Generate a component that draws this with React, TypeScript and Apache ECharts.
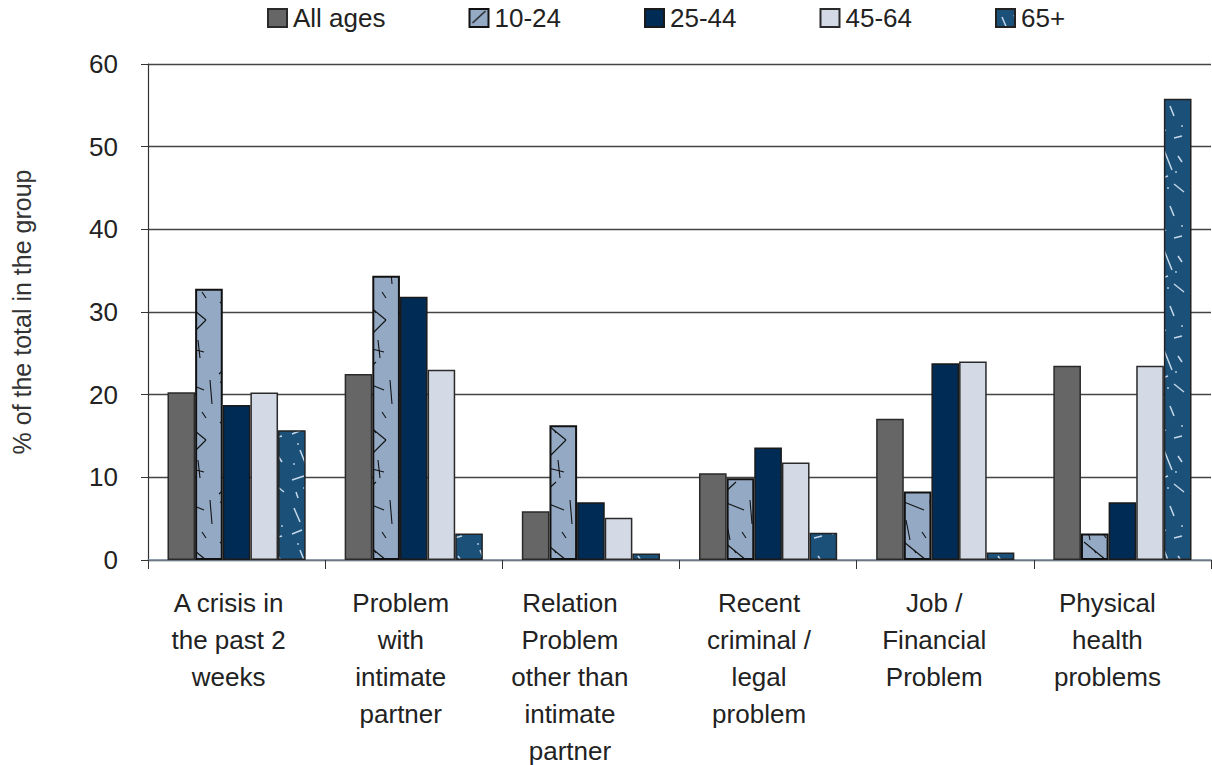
import React, { useEffect, useRef } from "react";
import * as echarts from "echarts";

const categories = [
  "A crisis in\nthe past 2\nweeks",
  "Problem\nwith\nintimate\npartner",
  "Relation\nProblem\nother than\nintimate\npartner",
  "Recent\ncriminal /\nlegal\nproblem",
  "Job /\nFinancial\nProblem",
  "Physical\nhealth\nproblems",
];
const seriesNames = ["All ages", "10-24", "25-44", "45-64", "65+"];
const allAges = [20.3, 22.5, 5.9, 10.5, 17.1, 23.5];
const age10to24 = [32.8, 34.4, 16.3, 9.9, 8.3, 3.2];
const age25to44 = [18.75, 31.85, 7.0, 13.6, 23.8, 7.0];
const age45to64 = [20.25, 23.0, 5.1, 11.8, 24.0, 23.5];
const age65plus = [15.7, 3.2, 0.8, 3.3, 0.9, 55.8];
const yTicks = [0, 10, 20, 30, 40, 50, 60];

// styling: right padding per category label (shifts label slightly left, as in the reference)
const labelPadRight = [16, 26, 42, 18, 22, 30];

const FONT = "'Liberation Sans', Arial, sans-serif";

// texture strokes (decoration only)
const segs1024 = [
  [3, 14, 16, 2], [4, 22, 24, 30], [6, 40, 10, 60], [22, 52, 26, 58],
  [4, 62, 26, 80], [26, 80, 10, 96], [18, 100, 20, 118], [8, 108, 24, 112],
  [30, 20, 32, 44], [14, 70, 16, 73],
];
const segs65 = [
  [6, 8, 12, 22], [18, 6, 22, 16], [4, 34, 14, 30], [22, 38, 30, 36],
  [12, 50, 20, 70], [26, 56, 30, 62], [4, 80, 16, 76], [22, 84, 32, 92],
  [8, 92, 10, 98],
];
const dots65 = [[30, 26], [10, 44], [24, 72], [6, 64], [16, 88]];

function makeTile(w: number, h: number, bg: string, stroke: string, lw: number, segs: number[][], dots: number[][]) {
  const c = document.createElement("canvas");
  c.width = w;
  c.height = h;
  const ctx = c.getContext("2d")!;
  ctx.fillStyle = bg;
  ctx.fillRect(0, 0, w, h);
  ctx.strokeStyle = stroke;
  ctx.lineWidth = lw;
  segs.forEach(([x1, y1, x2, y2]) => {
    ctx.beginPath();
    ctx.moveTo(x1, y1);
    ctx.lineTo(x2, y2);
    ctx.stroke();
  });
  ctx.fillStyle = stroke;
  dots.forEach(([x, y]) => {
    ctx.fillRect(x - 0.8, y - 0.8, 1.6, 1.6);
  });
  return { image: c.toDataURL(), repeat: "repeat", imageWidth: w, imageHeight: h };
}

export default function App() {
  const ref = useRef<HTMLDivElement>(null);
  useEffect(() => {
    if (!ref.current) return;
    const chart = echarts.init(ref.current, null, { renderer: "svg" });
    const pat1024 = makeTile(36, 120, "#94A9C4", "#111111", 1.1, segs1024, []);
    const pat65 = makeTile(36, 100, "#1B5079", "#C6D8EA", 1.5, segs65, dots65);
    const values = [allAges, age10to24, age25to44, age45to64, age65plus];
    const fills: any[] = ["#666666", pat1024, "#002B55", "#D3DAE6", pat65];
    const borders = ["#2a2a2a", "#111111", "#1a1a1a", "#2a2a2a", "#222222"];
    const bw = [1.5, 2, 1.5, 1.5, 1.5];
    chart.setOption({
      animation: false,
      backgroundColor: "#ffffff",
      textStyle: { fontFamily: FONT },
      legend: {
        left: 262,
        top: 0,
        icon: "rect",
        itemWidth: 19,
        itemHeight: 18,
        itemGap: 83,
        textStyle: { fontSize: 26, color: "#222", fontFamily: FONT, padding: [0, 0, 0, 1] },
        data: seriesNames,
      },
      grid: { left: 148, right: 1, top: 64, bottom: 205, containLabel: false, outerBoundsMode: "none" },
      xAxis: {
        type: "category",
        data: categories.map((c, i) => ({ value: c, textStyle: { padding: [0, labelPadRight[i], 0, 0] } })),
        boundaryGap: true,
        axisLine: { show: true, lineStyle: { color: "#7a8a9c", width: 1.5 } },
        axisTick: { show: true, length: 9, lineStyle: { color: "#333" } },
        axisLabel: {
          interval: 0,
          margin: 24,
          fontSize: 26,
          lineHeight: 37,
          color: "#222",
          fontFamily: FONT,
        },
      },
      yAxis: {
        type: "value",
        min: yTicks[0],
        max: yTicks[yTicks.length - 1],
        interval: 10,
        name: "% of the total in the group",
        nameLocation: "middle",
        nameGap: 114,
        nameTextStyle: { fontSize: 25, color: "#333", fontFamily: FONT },
        axisLine: { show: true, lineStyle: { color: "#333", width: 1.2 } },
        axisTick: { show: true, inside: false, length: 7, lineStyle: { color: "#333" } },
        axisLabel: { margin: 30, fontSize: 26, color: "#222", fontFamily: FONT },
        splitLine: { show: true, lineStyle: { color: "#444", width: 1.4 } },
      },
      series: seriesNames.map((name, i) => ({
        name,
        type: "bar",
        data: values[i],
        barGap: "0%",
        barCategoryGap: "22%",
        itemStyle: { color: fills[i], borderColor: borders[i], borderWidth: bw[i] },
      })),
    });
    return () => chart.dispose();
  }, []);
  return (
    <div
      ref={ref}
      style={{ position: "fixed", left: 0, top: 0, width: 1212, height: 765, background: "#fff" }}
    />
  );
}
